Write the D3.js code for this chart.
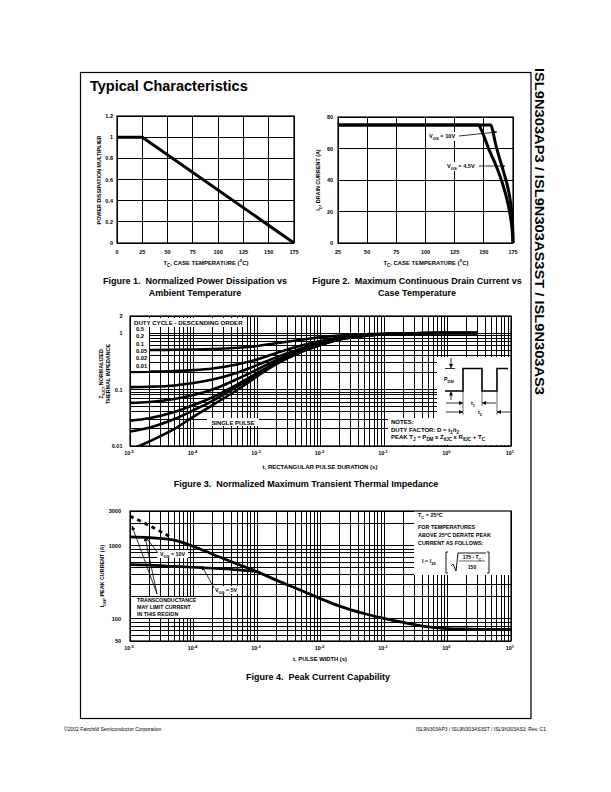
<!DOCTYPE html>
<html><head><meta charset="utf-8">
<script src="https://cdn.jsdelivr.net/npm/d3@7"></script>
<style>
body{margin:0;background:#fff}
svg{display:block;font-family:"Liberation Sans",Arial,Helvetica,sans-serif}
text{white-space:pre}
</style></head><body>
<svg id="c" width="611" height="792"></svg>
<script>
// ---------------- DATA ----------------
// Figure 1
const fig1Temp=[0,25,175];
const fig1Mult=[1,1,0];
const fig1XTicks=[0,25,50,75,100,125,150,175];
const fig1YTicks=[0,0.2,0.4,0.6,0.8,1,1.2];
// Figure 2
const fig2XTicks=[25,50,75,100,125,150,175];
const fig2YTicks=[0,20,40,60,80];
const fig2Temp10=[25,156,158,160,163,167,170,172,174,175,175];
const fig2Id10=[75,75,70,63,55,45,37,30,18,5,0];
const fig2Temp45=[25,145,150,154,160,165,170,172.5,174.3,175];
const fig2Id45=[75,75,68,60,50,40,27,18,8,0];
// Figure 3
const fig3XTicks=[-5,-4,-3,-2,-1,0,1];
const fig3YTicks=[2,1,0.1,0.01];
const fig3T=[1e-5,2e-5,5e-5,1e-4,2e-4,5e-4,1e-3,2e-3,5e-3,1e-2,2e-2,5e-2,1e-1,3e-1,1,3];
const fig3D05=[0.50,0.50,0.505,0.51,0.52,0.55,0.59,0.66,0.76,0.84,0.90,0.95,0.97,0.99,1.0,1.0];
const fig3D02=[0.205,0.207,0.212,0.22,0.235,0.28,0.34,0.44,0.60,0.72,0.83,0.92,0.96,0.99,1.0,1.0];
const fig3D01=[0.11,0.112,0.118,0.13,0.15,0.20,0.27,0.37,0.53,0.67,0.80,0.91,0.96,0.99,1.0,1.0];
const fig3D005=[0.058,0.06,0.068,0.08,0.10,0.155,0.225,0.33,0.50,0.65,0.79,0.90,0.95,0.99,1.0,1.0];
const fig3D002=[0.028,0.031,0.04,0.053,0.073,0.125,0.195,0.30,0.48,0.63,0.78,0.90,0.95,0.99,1.0,1.0];
const fig3D001=[0.018,0.021,0.03,0.043,0.063,0.115,0.185,0.29,0.47,0.62,0.77,0.89,0.95,0.99,1.0,1.0];
const fig3Single=[0.0085,0.012,0.02,0.033,0.053,0.10,0.17,0.28,0.46,0.61,0.77,0.89,0.95,0.99,1.0,1.0];
const fig3DutyLabels=["0.5","0.2","0.1","0.05","0.02","0.01"];
// Figure 4
const fig4XTicks=[-5,-4,-3,-2,-1,0,1];
const fig4YTicks=[3000,1000,100,50];
const fig4T10=[1e-5,2e-5,5e-5,1e-4,2e-4,5e-4,1e-3,2e-3,5e-3,1e-2,2e-2,5e-2,1e-1,2e-1,5e-1,1,2,5,10];
const fig4I10=[1330,1300,1200,980,770,560,445,340,245,190,150,118,102,90,78,74,73,72,72];
const fig4T5=[1e-5,2e-5,5e-5,1e-4,2e-4,5e-4,1e-3];
const fig4I5=[555,545,525,510,495,470,445];
const fig4TDash=[1e-5,2e-5,4.5e-5];
const fig4IDash=[2550,1900,1300];

// ---------------- HELPERS ----------------
const svg=d3.select('#c');
svg.append('rect').attr('width',611).attr('height',792).attr('fill','#fff');
const defs=svg.append('defs');
defs.append('marker').attr('id','ah').attr('viewBox','0 0 10 10').attr('refX',10).attr('refY',5)
  .attr('markerWidth',5).attr('markerHeight',4).attr('markerUnits','userSpaceOnUse')
  .attr('orient','auto').append('path').attr('d','M0,0L10,5L0,10z').attr('fill','#000');

function label(parent,x,y,parts,o={}){
  const size=o.size||5.5;
  const t=parent.append('text').attr('x',x).attr('y',y)
    .attr('font-size',size).attr('font-weight',o.weight||'bold')
    .attr('text-anchor',o.anchor||'start').attr('fill','#000');
  if(o.transform) t.attr('transform',o.transform);
  if(typeof parts==='string') parts=[[parts]];
  parts.forEach(p=>{
    const s=t.append('tspan').text(p[0]);
    if(p[1]==='sub') s.attr('baseline-shift',-size*0.3).attr('font-size',size*0.75);
    if(p[1]==='sup') s.attr('baseline-shift',size*0.45).attr('font-size',size*0.75);
  });
  return t;
}
function arrow(g,x1,y1,x2,y2,w){
  g.append('line').attr('x1',x1).attr('y1',y1).attr('x2',x2).attr('y2',y2)
   .attr('stroke','#000').attr('stroke-width',w||0.8).attr('marker-end','url(#ah)');
}
function whiteBox(g,x,y,w,h){g.append('rect').attr('x',x).attr('y',y).attr('width',w).attr('height',h).attr('fill','#fff');}
function grid(g,x,y,xs,ys){
  const [x0,x1]=x.range(), [y0,y1]=y.range();
  g.append('g').selectAll('line').data(xs).join('line')
    .attr('x1',d=>x(d)).attr('x2',d=>x(d)).attr('y1',y0).attr('y2',y1)
    .attr('stroke','#000').attr('stroke-width',1).attr('shape-rendering','crispEdges');
  g.append('g').selectAll('line').data(ys).join('line')
    .attr('y1',d=>y(d)).attr('y2',d=>y(d)).attr('x1',x0).attr('x2',x1)
    .attr('stroke','#000').attr('stroke-width',1).attr('shape-rendering','crispEdges');
}
function frame(g,x,y){
  const [x0,x1]=x.range(), [y0,y1]=y.range();
  g.append('rect').attr('x',x0).attr('y',y1).attr('width',x1-x0).attr('height',y0-y1)
   .attr('fill','none').attr('stroke','#000').attr('stroke-width',1.2);
}
function curve(g,xs,ys,x,y,w,dash){
  const p=g.append('path').datum(d3.zip(xs,ys))
   .attr('d',d3.line().x(d=>x(d[0])).y(d=>y(d[1])).curve(d3.curveMonotoneX))
   .attr('fill','none').attr('stroke','#000').attr('stroke-width',w||3);
  if(dash) p.attr('stroke-dasharray',dash);
  return p;
}

// ---------------- PAGE ----------------
svg.append('rect').attr('x',80.5).attr('y',72.5).attr('width',450.5).attr('height',646)
  .attr('fill','none').attr('stroke','#000').attr('stroke-width',1.2);
label(svg,90,91,'Typical Characteristics',{size:14.5});
label(svg,535,68,'ISL9N303AP3 / ISL9N303AS3ST / ISL9N303AS3',{size:13,transform:'rotate(90,535,68)'})
  .attr('textLength',327).attr('lengthAdjust','spacingAndGlyphs');
label(svg,64,731,'\u00A92002 Fairchild Semiconductor Corporation',{size:5,weight:'normal'});
label(svg,546,731,'ISL9N303AP3 / ISL9N303AS3ST / ISL9N303AS3, Rev. C1',{size:5,weight:'normal',anchor:'end'});

// ---------------- FIGURE 1 ----------------
{
const g=svg.append('g');
const x=d3.scaleLinear().domain([0,175]).range([117,294]);
const y=d3.scaleLinear().domain([0,1.2]).range([243,116]);
grid(g,x,y,fig1XTicks,fig1YTicks);
frame(g,x,y);
g.append('path').datum(d3.zip(fig1Temp,fig1Mult))
 .attr('d',d3.line().x(d=>x(d[0])).y(d=>y(d[1])))
 .attr('fill','none').attr('stroke','#000').attr('stroke-width',3);
const f=d3.format('~g');
fig1YTicks.forEach(v=>label(g,113,y(v)+2,f(v),{anchor:'end'}));
fig1XTicks.forEach(v=>label(g,x(v),254,f(v),{anchor:'middle'}));
label(g,206,264.5,[['T'],['C','sub'],[', CASE TEMPERATURE ('],['o','sup'],['C)']],{anchor:'middle',size:5.9});
label(g,0,0,'POWER DISSIPATION MULTIPLIER',{anchor:'middle',size:5.4,transform:'translate(101,180) rotate(-90)'});
label(g,195,284,'Figure 1.  Normalized Power Dissipation vs',{anchor:'middle',size:9});
label(g,195,296,'Ambient Temperature',{anchor:'middle',size:9});
}

// ---------------- FIGURE 2 ----------------
{
const g=svg.append('g');
const x=d3.scaleLinear().domain([25,175]).range([338,513]);
const y=d3.scaleLinear().domain([0,80]).range([243,117]);
grid(g,x,y,fig2XTicks,fig2YTicks);
frame(g,x,y);
curve(g,fig2Temp45,fig2Id45,x,y,3);
curve(g,fig2Temp10,fig2Id10,x,y,3);
fig2YTicks.forEach(v=>label(g,333,y(v)+2,String(v),{anchor:'end'}));
fig2XTicks.forEach(v=>label(g,x(v),254,String(v),{anchor:'middle'}));
label(g,426,264.5,[['T'],['C','sub'],[', CASE TEMPERATURE ('],['o','sup'],['C)']],{anchor:'middle',size:5.9});
label(g,0,0,[['I'],['D','sub'],[', DRAIN CURRENT (A)']],{anchor:'middle',size:5.4,transform:'translate(320,180) rotate(-90)'});
whiteBox(g,427,132,32,9);
label(g,429,138,[['V'],['GS','sub'],[' = 10V']],{size:5.6});
arrow(g,459,136,497,132);
whiteBox(g,445,162,34,9);
label(g,447,168,[['V'],['GS','sub'],[' = 4.5V']],{size:5.6});
arrow(g,479,166,505,166);
label(g,417,284,'Figure 2.  Maximum Continuous Drain Current vs',{anchor:'middle',size:9});
label(g,417,296,'Case Temperature',{anchor:'middle',size:9});
}

// ---------------- FIGURE 3 ----------------
{
const g=svg.append('g');
const x=d3.scaleLog().domain([1e-5,10]).range([130,511]);
const y=d3.scaleLog().domain([0.01,2]).range([446,316]);
grid(g,x,y,x.ticks(),y.ticks().concat([2]));
defs.append('clipPath').attr('id','clip3').append('rect').attr('x',130).attr('y',316).attr('width',381).attr('height',130);
const cg=g.append('g').attr('clip-path','url(#clip3)');
[fig3D05,fig3D02,fig3D01,fig3D005,fig3D002,fig3D001,fig3Single].forEach(s=>curve(cg,fig3T,s,x,y,2.6));
// duty-cycle legend box
whiteBox(g,131,318,113,9);
whiteBox(g,131,327,18,44);
label(g,134,325,'DUTY CYCLE - DESCENDING ORDER',{size:6.1});
fig3DutyLabels.forEach((d,i)=>label(g,136,331+i*7.3,d,{size:5.8}));
// single pulse
whiteBox(g,207,418,52,8);
label(g,233,424.5,'SINGLE PULSE',{anchor:'middle',size:5.9});
// inset waveform
whiteBox(g,437,357,74,61);
const w=g.append('g').attr('fill','none').attr('stroke','#000');
w.append('path').attr('d','M445,391H463V368.5H482V391H497V368.5H508').attr('stroke-width',1.6);
w.append('path').attr('d','M445,368.5H455').attr('stroke-width',0.8);
w.append('path').attr('d','M463,391V415M482,391V406M497,391V415').attr('stroke-width',0.6);
arrow(g,451,358,451,368,0.8);
arrow(g,451,400,451,391.5,0.8);
label(g,444,381,[['P'],['DM','sub']],{size:5.3});
arrow(g,446,403,463,403,0.8);
arrow(g,496,403,482,403,0.8);
label(g,471,404.5,[['t'],['1','sub']],{size:5.3});
arrow(g,446,412,463,412,0.8);
arrow(g,511,412,497,412,0.8);
label(g,478,414,[['t'],['2','sub']],{size:5.3});
// notes
whiteBox(g,388,418,123,27);
label(g,391,424,'NOTES:',{size:6});
label(g,391,431.5,[['DUTY FACTOR: D = t'],['1','sub'],['/t'],['2','sub']],{size:6});
label(g,391,439,[['PEAK T'],['J','sub'],[' = P'],['DM','sub'],[' x Z'],['\u03B8JC','sub'],[' x R'],['\u03B8JC','sub'],[' + T'],['C','sub']],{size:6});
frame(g,x,y);
fig3YTicks.forEach(v=>label(g,122.5,y(v)+2,String(v),{anchor:'end'}));
fig3XTicks.forEach(e=>label(g,x(Math.pow(10,e))-1,455,[['10'],[String(e),'sup']],{anchor:'middle',size:5.4}));
label(g,320,469,'t, RECTANGULAR PULSE DURATION (s)',{anchor:'middle',size:6});
label(g,0,0,[['Z'],['\u03B8JC','sub'],[', NORMALIZED']],{anchor:'middle',size:5.4,transform:'translate(103,374) rotate(-90)'});
label(g,0,0,'THERMAL IMPEDANCE',{anchor:'middle',size:5.4,transform:'translate(110,374) rotate(-90)'});
label(g,306,487,'Figure 3.  Normalized Maximum Transient Thermal Impedance',{anchor:'middle',size:9});
}

// ---------------- FIGURE 4 ----------------
{
const g=svg.append('g');
const x=d3.scaleLog().domain([1e-5,10]).range([130,511]);
const y=d3.scaleLog().domain([50,3000]).range([641,511]);
grid(g,x,y,x.ticks(),y.ticks().concat([3000]));
defs.append('clipPath').attr('id','clip4').append('rect').attr('x',130).attr('y',511).attr('width',381).attr('height',130);
const cg=g.append('g').attr('clip-path','url(#clip4)');
curve(cg,fig4T5,fig4I5,x,y,2.6);
curve(cg,fig4T10,fig4I10,x,y,2.8);
curve(cg,fig4TDash,fig4IDash,x,y,2.8,'4,4');
// derating box
whiteBox(g,414,511,97,64);
label(g,418,517,[['T'],['C','sub'],[' = 25'],['o','sup'],['C']],{size:5.4});
label(g,418,529,'FOR TEMPERATURES',{size:5.4});
label(g,418,536.5,[['ABOVE 25'],['o','sup'],['C DERATE PEAK']],{size:5.4});
label(g,418,545,'CURRENT AS FOLLOWS:',{size:5.4});
label(g,422,563,[['I = I'],['25','sub']],{size:5.4});
const fm=g.append('g').attr('fill','none').attr('stroke','#000').attr('stroke-width',0.9);
fm.append('path').attr('d','M448,552H446V573H448');
fm.append('path').attr('d','M487,552H489V573H487');
fm.append('path').attr('d','M451,566L453,564L456,571L458,553H486');
fm.append('path').attr('d','M459,561H485').attr('stroke-width',0.6);
label(g,472,559,[['175 - T'],['C','sub']],{size:5,anchor:'middle'});
label(g,472,569,'150',{size:5,anchor:'middle'});
// labels & arrows
whiteBox(g,157,550,31,8);
label(g,160,556,[['V'],['GS','sub'],[' = 10V']],{size:5.4});
arrow(g,158,553,145,536,0.8);
whiteBox(g,213,586,29,8);
label(g,215,592,[['V'],['GS','sub'],[' = 5V']],{size:5.4});
arrow(g,214,588,202,566,0.8);
whiteBox(g,133,597,68,21);
label(g,137,602,'TRANSCONDUCTANCE',{size:5.3});
label(g,137,609,'MAY LIMIT CURRENT',{size:5.3});
label(g,137,616,'IN THIS REGION',{size:5.3});
arrow(g,157,594,132,526,0.8);
arrow(g,157,594,145,537,0.8);
frame(g,x,y);
fig4YTicks.forEach(v=>label(g,121,y(v)+2,String(v),{anchor:'end'}));
fig4XTicks.forEach(e=>label(g,x(Math.pow(10,e))-1,650,[['10'],[String(e),'sup']],{anchor:'middle',size:5.4}));
label(g,320,661,'t, PULSE WIDTH (s)',{anchor:'middle',size:5.8});
label(g,0,0,[['I'],['DM','sub'],[', PEAK CURRENT (A)']],{anchor:'middle',size:5.4,transform:'translate(104,576) rotate(-90)'});
label(g,318,680,'Figure 4.  Peak Current Capability',{anchor:'middle',size:9});
}
</script>
</body></html>
